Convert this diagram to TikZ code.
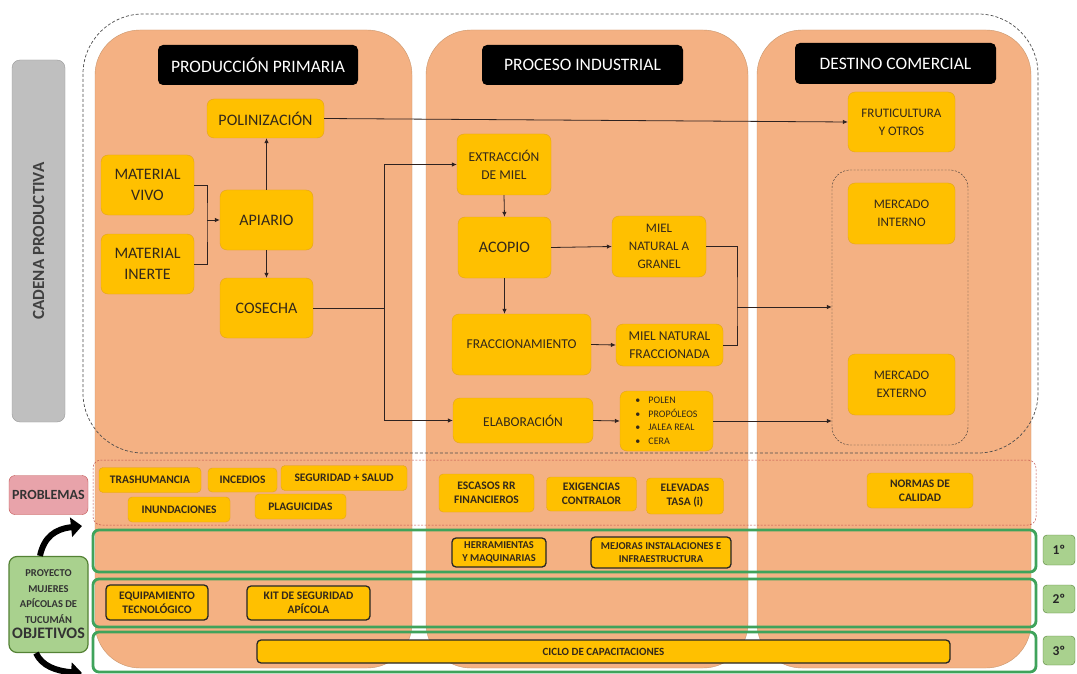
\documentclass[tikz,border=0pt]{standalone}
\usepackage{fontspec}
\setmainfont{Carlito}
\usetikzlibrary{arrows.meta}
\definecolor{naranja}{HTML}{F4B183}
\definecolor{bordenar}{HTML}{C8956B}
\definecolor{amarillo}{HTML}{FFC000}
\definecolor{bordeam}{HTML}{E3A21A}
\definecolor{textoc}{HTML}{33281A}
\definecolor{verde}{HTML}{3FA35B}
\definecolor{verdeclaro}{HTML}{A9D18E}
\definecolor{verdeosc}{HTML}{548235}
\definecolor{gris}{HTML}{BFBFBF}
\definecolor{rosa}{HTML}{E8A3AA}
\definecolor{rojo}{HTML}{C0504D}
\definecolor{flechac}{HTML}{2E2220}
\begin{document}
\begin{tikzpicture}[x=1pt,y=-1pt]
                \tikzstyle{every node}+=[inner sep=1pt]
                \tikzstyle{caja}=[draw=bordeam, fill=amarillo, rounded corners=7pt, text=textoc, align=center]
                \tikzstyle{titulo}=[fill=black, rounded corners=5pt, text=white, font=\fontsize{17.5}{20}\selectfont]
                \tikzstyle{problema}=[caja, rounded corners=4pt, font=\bfseries\fontsize{11.5}{14}\selectfont]
                \tikzstyle{objetivo}=[caja, draw=black!85, line width=1.3pt, rounded corners=4pt, font=\bfseries\fontsize{10.5}{13}\selectfont]
                \tikzstyle{flecha}=[flechac, line width=0.8pt, -{Latex[length=5pt,width=4.5pt]}]
                \tikzstyle{linea}=[flechac, line width=0.8pt]
                \tikzstyle{fila}=[verde, line width=2.8pt, rounded corners=6pt]
                \tikzstyle{orden}=[draw=verdeosc, fill=verdeclaro, rounded corners=4pt, text=black!85, font=\bfseries\fontsize{13.5}{15}\selectfont, minimum width=32pt]
                \tikzstyle{curva}=[black, line width=6pt, -{Triangle[length=11pt,width=19pt]}]
                \useasboundingbox (0,0) rectangle (1077,674);
                \fill[white] (0,0) rectangle (1077,674);
                % columnas
                \draw[draw=bordenar, fill=naranja, rounded corners=45pt] (95,30) rectangle (412,668);
                \draw[draw=bordenar, fill=naranja, rounded corners=45pt] (426,30) rectangle (748,668);
                \draw[draw=bordenar, fill=naranja, rounded corners=45pt] (757,30) rectangle (1031,668);
                \draw[black!70, line width=0.7pt, dash pattern=on 3pt off 2pt, rounded corners=60pt] (83,14) rectangle (1038,453);
                \draw[rojo, line width=0.5pt, dash pattern=on 2pt off 1.5pt, rounded corners=8pt] (93,460) rectangle (1036,525);
                \draw[fila] (93,530) rectangle (1036,572);
                \draw[fila] (93,579) rectangle (1036,627);
                \draw[fila] (93,632) rectangle (1036,672);
                % etiquetas
                \node[draw=gris!80!black, fill=gris, rounded corners=8pt, rotate=90, minimum width=362pt, minimum height=53pt, text=black!75, font=\bfseries\fontsize{17}{19}\selectfont] (cadena) at (38.5,241) {CADENA PRODUCTIVA};
                \node[draw=rojo, fill=rosa, rounded corners=6pt, minimum width=79pt, minimum height=39pt, text=black!80, font=\bfseries\fontsize{14}{16}\selectfont] (problemas) at (48.5,495) {PROBLEMAS};
                \node[draw=verdeosc, fill=verdeclaro, line width=1.2pt, rounded corners=8pt, minimum width=79pt, minimum height=96pt, align=center, text=black!80, font=\bfseries\fontsize{10.5}{15.5}\selectfont] (proyecto) at (48.5,604.5) {PROYECTO\\MUJERES\\APÍCOLAS DE\\TUCUMÁN\\\fontsize{16}{17}\selectfont OBJETIVOS};
                \node[titulo, minimum width=200pt, minimum height=40pt] (primaria) at (258,65) {PRODUCCIÓN PRIMARIA};
                \node[titulo, minimum width=201pt, minimum height=40pt] (industrial) at (582.5,65) {PROCESO INDUSTRIAL};
                \node[titulo, minimum width=201pt, minimum height=41pt] (comercial) at (895.5,63.5) {DESTINO COMERCIAL};
                % produccion primaria
                \node[caja, minimum width=117pt, minimum height=39pt, font=\fontsize{16}{21}\selectfont] (poliniz) at (265.5,118.5) {POLINIZACIÓN};
                \node[caja, minimum width=93pt, minimum height=60pt, font=\fontsize{16}{21}\selectfont] (vivo) at (147.5,185) {MATERIAL\\VIVO};
                \node[caja, minimum width=93pt, minimum height=60pt, font=\fontsize{16}{21}\selectfont] (inerte) at (147.5,264) {MATERIAL\\INERTE};
                \node[caja, minimum width=93pt, minimum height=60pt, font=\fontsize{16}{21}\selectfont] (apiario) at (266.5,220) {APIARIO};
                \node[caja, minimum width=93pt, minimum height=60pt, font=\fontsize{16}{21}\selectfont] (cosecha) at (266.5,308) {COSECHA};
                % proceso industrial
                \node[caja, minimum width=94pt, minimum height=61pt, font=\fontsize{13.5}{18}\selectfont] (extraccion) at (504,164.5) {EXTRACCIÓN\\DE MIEL};
                \node[caja, minimum width=93pt, minimum height=61pt, font=\fontsize{16}{21}\selectfont] (acopio) at (504.5,247.5) {ACOPIO};
                \node[caja, minimum width=94pt, minimum height=61pt, font=\fontsize{13}{18}\selectfont] (granel) at (659,246.5) {MIEL\\NATURAL A\\GRANEL};
                \node[caja, minimum width=139pt, minimum height=61pt, font=\fontsize{13.5}{18}\selectfont] (fracc) at (521.5,344.5) {FRACCIONAMIENTO};
                \node[caja, minimum width=107pt, minimum height=42pt, font=\fontsize{13.5}{18}\selectfont] (fraccionada) at (669.5,345) {MIEL NATURAL\\FRACCIONADA};
                \node[caja, minimum width=140pt, minimum height=45pt, font=\fontsize{13.5}{18}\selectfont] (elaboracion) at (523,420.5) {ELABORACIÓN};
                \node[caja, minimum width=93pt, minimum height=60pt, align=left, font=\fontsize{10}{13.5}\selectfont] (productos) at (666.5,421) {\textbullet\hspace{8pt}POLEN\\\textbullet\hspace{8pt}PROPÓLEOS\\\textbullet\hspace{8pt}JALEA REAL\\\textbullet\hspace{8pt}CERA};
                % destino comercial
                \node[caja, minimum width=107pt, minimum height=60pt, font=\fontsize{13}{18}\selectfont] (fruti) at (901.5,122) {FRUTICULTURA\\Y OTROS};
                \node[draw=black!80, dash pattern=on 2pt off 1.5pt, rounded corners=18pt, minimum width=136pt, minimum height=275pt] (mercados) at (900,307.5) {};
                \node[caja, minimum width=107pt, minimum height=61pt, font=\fontsize{13}{18}\selectfont] (interno) at (901.5,213.5) {MERCADO\\INTERNO};
                \node[caja, minimum width=107pt, minimum height=61pt, font=\fontsize{13}{18}\selectfont] (externo) at (901.5,384.5) {MERCADO\\EXTERNO};
                % problemas
                \node[problema, minimum width=102pt, minimum height=25pt] (trashum) at (150,480) {TRASHUMANCIA};
                \node[problema, minimum width=69pt, minimum height=24pt] (incendios) at (242.5,480) {INCEDIOS};
                \node[problema, minimum width=126pt, minimum height=25pt] (seguridad) at (344,478) {SEGURIDAD + SALUD};
                \node[problema, minimum width=102pt, minimum height=25pt] (inundac) at (179,509.5) {INUNDACIONES};
                \node[problema, minimum width=91pt, minimum height=25pt] (plaguic) at (300.5,506.5) {PLAGUICIDAS};
                \node[problema, minimum width=95pt, minimum height=38pt] (escasos) at (486.5,493) {ESCASOS RR\\FINANCIEROS};
                \node[problema, minimum width=90pt, minimum height=34pt] (exigenc) at (591.5,494) {EXIGENCIAS\\CONTRALOR};
                \node[problema, minimum width=77pt, minimum height=36pt] (elevadas) at (685,496) {ELEVADAS\\TASA (i)};
                \node[problema, minimum width=106pt, minimum height=35pt] (normas) at (920,490.5) {NORMAS DE\\CALIDAD};
                % objetivos
                \node[objetivo, minimum width=94pt, minimum height=29pt] (herram) at (499,552.5) {HERRAMIENTAS\\Y MAQUINARIAS};
                \node[objetivo, minimum width=140pt, minimum height=31pt] (mejoras) at (661,552.5) {MEJORAS INSTALACIONES E\\INFRAESTRUCTURA};
                \node[objetivo, minimum width=102pt, minimum height=35pt, font=\bfseries\fontsize{11.5}{14}\selectfont] (equipam) at (157,602.5) {EQUIPAMIENTO\\TECNOLÓGICO};
                \node[objetivo, minimum width=123pt, minimum height=34pt, font=\bfseries\fontsize{11.5}{14}\selectfont] (kit) at (308.5,603) {KIT DE SEGURIDAD\\APÍCOLA};
                \node[objetivo, minimum width=693pt, minimum height=23pt, font=\bfseries\fontsize{11}{13}\selectfont] (ciclo) at (603.5,651.5) {CICLO DE CAPACITACIONES};
                \node[orden, minimum height=30pt] (uno) at (1059,550) {1º};
                \node[orden, minimum height=28pt] (dos) at (1059,599) {2º};
                \node[orden, minimum height=29pt] (tres) at (1059,650.5) {3º};
                % conectores
                \coordinate (junta1) at (207,220);
                \coordinate (junta2) at (384,308);
                \coordinate (junta3) at (737,307);
                \draw[flecha] (poliniz.east) -- (fruti.west);
                \draw[flecha] (apiario.north) -- (apiario.north |- poliniz.south);
                \draw[flecha] (apiario.south) -- (cosecha.north);
                \draw[linea] (vivo.east) -| (junta1) |- (inerte.east);
                \draw[flecha] (junta1) -- (apiario.west);
                \draw[linea] (cosecha.east) -- (junta2);
                \draw[flecha] (junta2) |- (extraccion.west);
                \draw[flecha] (junta2) |- (elaboracion.west);
                \draw[flecha] (extraccion.south) -- (acopio.north);
                \draw[flecha] (acopio.east) -- (granel.west);
                \draw[flecha] (acopio.south) -- (acopio.south |- fracc.north);
                \draw[flecha] (fracc.east) -- (fraccionada.west);
                \draw[flecha] (elaboracion.east) -- (productos.west);
                \draw[linea] (granel.east) -| (junta3) |- (fraccionada.east);
                \draw[flecha] (junta3) -- (mercados.west |- junta3);
                \draw[flecha] (productos.east) -- (productos.east -| mercados.west);
                % flechas curvas
                \coordinate (arriba) at (82,526);
                \coordinate (abajo) at (82,673);
                \draw[curva] (proyecto.north -| 40,0) .. controls (44,537) and (55,529) .. (arriba);
                \draw[curva] (proyecto.south -| 36,0) .. controls (42,666) and (56,671) .. (abajo);
            \end{tikzpicture}
\end{document}
